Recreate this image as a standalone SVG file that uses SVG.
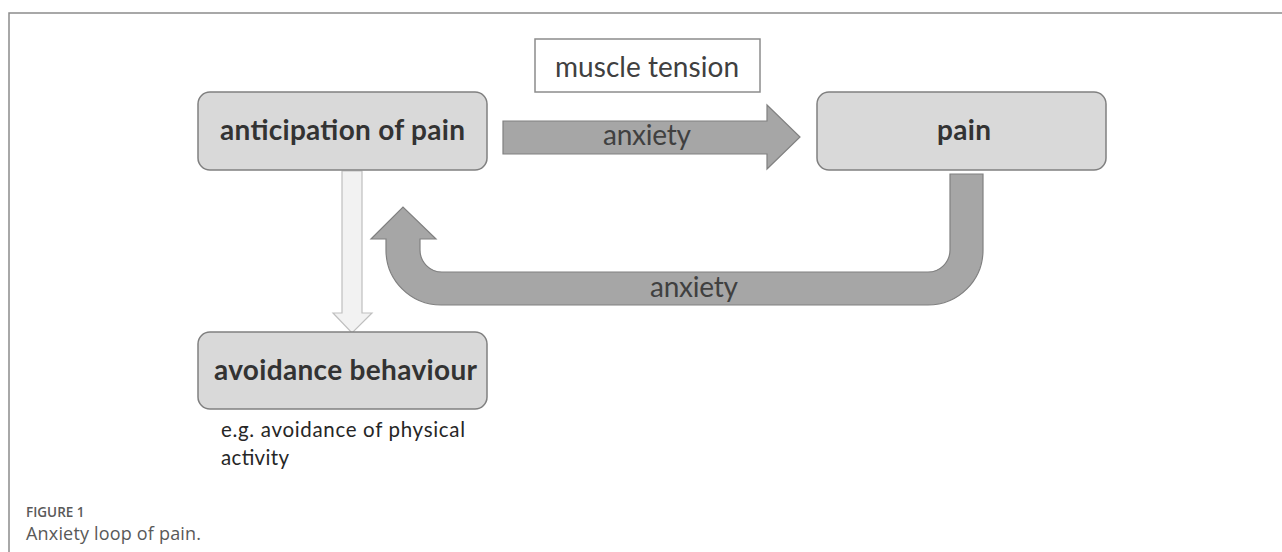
<svg xmlns="http://www.w3.org/2000/svg" width="1282" height="552" viewBox="0 0 1282 552">
  <style>
    .box { fill: #d9d9d9; stroke: #808080; stroke-width: 1.5; }
    .note { fill: #ffffff; stroke: #8c8c8c; stroke-width: 1.5; }
    .arrow { fill: #a6a6a6; stroke: #808080; stroke-width: 1.2; }
    .light { fill: #f2f2f2; stroke: #bfbfbf; stroke-width: 1.2; }
    .bold { font-family: Lato, "Liberation Sans", sans-serif; font-weight: 700; font-size: 28px; fill: #333333; }
    .lbl { font-family: Lato, "Liberation Sans", sans-serif; font-size: 28px; fill: #404040; }
    .sub { font-family: Lato, "Liberation Sans", sans-serif; font-size: 20.5px; fill: #262626; }
    .capH { font-family: "Open Sans", "Liberation Sans", sans-serif; font-weight: 600; font-size: 13.5px; fill: #595959; }
    .cap { font-family: "Open Sans", "Liberation Sans", sans-serif; font-size: 18px; fill: #595959; }
    .frame { fill: none; stroke: #8c8c8c; stroke-width: 1.5; }
  </style>

  <rect width="1282" height="552" fill="#ffffff"/>
  <path class="frame" d="M9 552 V13 H1282"/>

  <g id="connectors">
    <path id="arrow-anticipation-pain" class="arrow" d="M503 121 H767 V105 L800 137 L767 169 V154 H503 Z"/>
    <path id="arrow-pain-anticipation" class="arrow" d="M950 174 H983 V250 A55 55 0 0 1 928 305 H441 A55 55 0 0 1 386 250 V239 H371 L403 207 L436 239 H420 V250 A22 22 0 0 0 442 272 H928 A22 22 0 0 0 950 250 Z"/>
    <path id="arrow-anticipation-avoidance" class="light" d="M342 171 H362 V313 H372 L352 333 L333 313 H342 Z"/>
    <text class="lbl" x="603" y="145" textLength="88">anxiety</text>
    <text class="lbl" x="650" y="297" textLength="88">anxiety</text>
  </g>

  <g id="muscle-tension">
    <rect class="note" x="535" y="39" width="225" height="53"/>
    <text class="lbl" x="555" y="77" textLength="184">muscle tension</text>
  </g>

  <g id="anticipation">
    <rect class="box" x="198" y="92" width="289" height="78" rx="12"/>
    <text class="bold" x="220" y="140" textLength="245">anticipation of pain</text>
  </g>

  <g id="pain">
    <rect class="box" x="817" y="92" width="289" height="78" rx="12"/>
    <text class="bold" x="937" y="140" textLength="54">pain</text>
  </g>

  <g id="avoidance">
    <rect class="box" x="198" y="332" width="289" height="77" rx="12"/>
    <text class="bold" x="214" y="380" textLength="263">avoidance behaviour</text>
    <text class="sub" x="221" y="436.5" textLength="244">e.g. avoidance of physical</text>
    <text class="sub" x="221" y="465" textLength="68">activity</text>
  </g>

  <g id="caption">
    <text class="capH" x="26" y="517">FIGURE 1</text>
    <text class="cap" x="26" y="540" textLength="175">Anxiety loop of pain.</text>
  </g>
</svg>
